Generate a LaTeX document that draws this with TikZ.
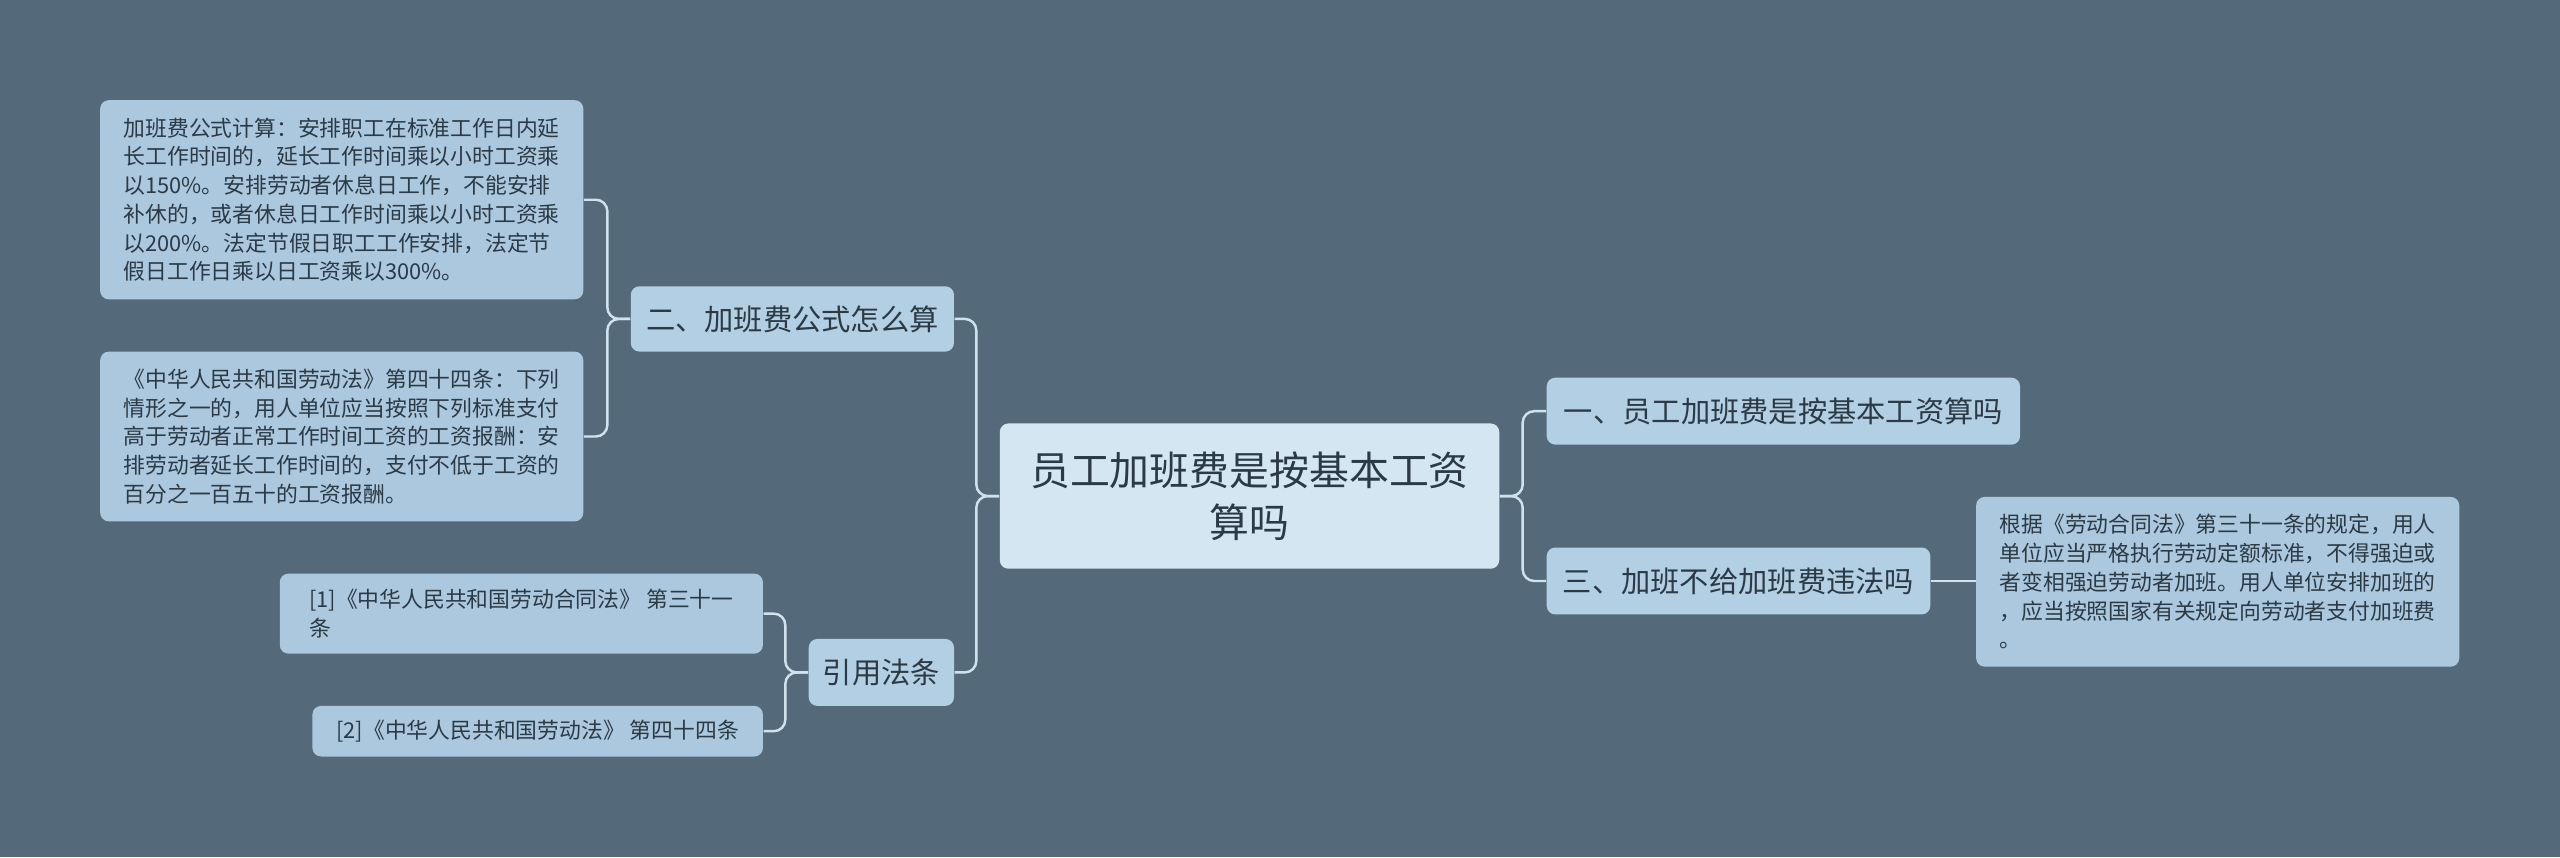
\documentclass[tikz,border=0pt]{standalone}
\usepackage{fontspec}
\setmainfont{Noto Sans CJK SC}
\usetikzlibrary{positioning}
\definecolor{bgslate}{HTML}{546A7A}
\definecolor{rootfill}{HTML}{D4E6F2}
\definecolor{branchfill}{HTML}{B3CFE3}
\definecolor{leaffill}{HTML}{ABC8DE}
\definecolor{linkline}{HTML}{D0E2EE}
\definecolor{inktext}{HTML}{2B3A45}

\begin{document}
\begin{tikzpicture}[x=0.02cm, y=-0.02cm,
    root/.style={rectangle, rounded corners=3pt, fill=rootfill, text=inktext,
                 font=\fontsize{13.9}{18}\selectfont, align=center, anchor=north west,
                 inner sep=0pt},
    branch/.style={rectangle, rounded corners=3pt, fill=branchfill, text=inktext,
                   font=\fontsize{10.2}{13}\selectfont, anchor=north west, inner sep=0pt},
    leaf/.style={rectangle, rounded corners=3pt, fill=leaffill, text=inktext,
                 font=\fontsize{7.6}{10}\selectfont, align=left, anchor=north west,
                 inner sep=0pt},
    link/.style={draw=linkline, line width=0.85pt, rounded corners=4pt}
  ]
    \fill[bgslate] (0,0) rectangle (1568,525);

    % root
    \node[root, minimum width=6.12cm, minimum height=1.78cm] (main) at (612,259)
      {员工加班费是按基本工资\\算吗};

    % right side
    \node[branch, minimum width=5.8cm, minimum height=0.82cm] (basic) at (947,231)
      {一、员工加班费是按基本工资算吗};
    \node[branch, minimum width=4.7cm, minimum height=0.82cm] (illegal) at (947,335)
      {三、加班不给加班费违法吗};
    \node[leaf, minimum width=5.92cm, minimum height=2.08cm] (rule31) at (1210,304)
      {根据《劳动合同法》第三十一条的规定，用人\\单位应当严格执行劳动定额标准，不得强迫或\\者变相强迫劳动者加班。用人单位安排加班的\\，应当按照国家有关规定向劳动者支付加班费\\。};

    % left side
    \node[branch, minimum width=3.96cm, minimum height=0.8cm] (formula) at (386,175)
      {二、加班费公式怎么算};
    \node[leaf, minimum width=5.92cm, minimum height=2.44cm] (calc) at (61,61)
      {加班费公式计算：安排职工在标准工作日内延\\长工作时间的，延长工作时间乘以小时工资乘\\以150\%。安排劳动者休息日工作，不能安排\\补休的，或者休息日工作时间乘以小时工资乘\\以200\%。法定节假日职工工作安排，法定节\\假日工作日乘以日工资乘以300\%。};
    \node[leaf, minimum width=5.92cm, minimum height=2.08cm] (law44) at (61,215)
      {《中华人民共和国劳动法》第四十四条：下列\\情形之一的，用人单位应当按照下列标准支付\\高于劳动者正常工作时间工资的工资报酬：安\\排劳动者延长工作时间的，支付不低于工资的\\百分之一百五十的工资报酬。};

    \node[branch, minimum width=1.78cm, minimum height=0.82cm] (cite) at (495,391)
      {引用法条};
    \node[leaf, minimum width=5.92cm, minimum height=0.98cm] (ref1) at (171,351)
      {[1]《中华人民共和国劳动合同法》 第三十一\\条};
    \node[leaf, minimum width=5.52cm, minimum height=0.62cm] (ref2) at (191,432)
      {[2]《中华人民共和国劳动法》 第四十四条};

    % connectors
    \draw[link] (main.west) -- ++(-14,0) |- (formula.east);
    \draw[link] (main.west) -- ++(-14,0) |- (cite.east);
    \draw[link] (main.east) -- ++(14,0) |- (basic.west);
    \draw[link] (main.east) -- ++(14,0) |- (illegal.west);
    \draw[link] (illegal.east) -- (rule31.west |- illegal.east);
    \draw[link] (formula.west) -- ++(-14,0) |- (calc.east);
    \draw[link] (formula.west) -- ++(-14,0) |- (law44.east);
    \draw[link] (cite.west) -- ++(-14,0) |- (ref1.east);
    \draw[link] (cite.west) -- ++(-14,0) |- (ref2.east);
\end{tikzpicture}
\end{document}
